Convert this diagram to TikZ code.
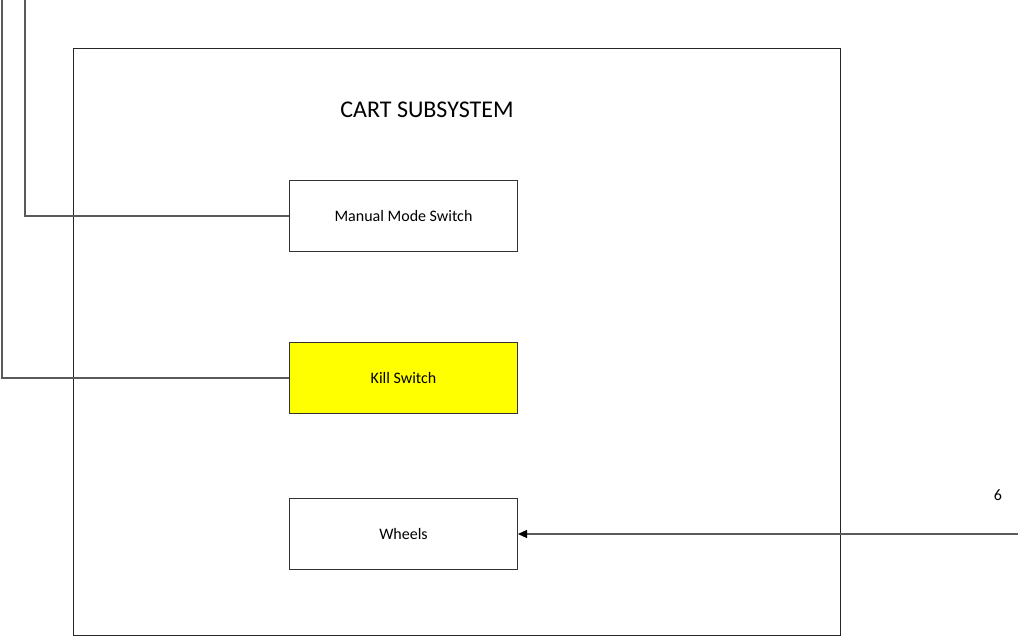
\documentclass[tikz,border=0pt]{standalone}
\usepackage{fontspec}
\setmainfont{Carlito}
\usetikzlibrary{arrows.meta}
\definecolor{kyellow}{RGB}{255,255,0}
\definecolor{lgray}{RGB}{90,90,90}
\begin{document}
\begin{tikzpicture}[x=1pt,y=-1pt,
  box/.style={draw=black!80,line width=1pt,minimum width=228pt,minimum height=71pt,inner sep=0pt,font=\fontsize{16}{19}\selectfont},
  conn/.style={draw=lgray,line width=1.1pt},
  lbl/.style={font=\fontsize{16}{19}\selectfont,inner sep=0pt}]
\useasboundingbox (0,0) rectangle (1018,636);
\node[draw=black!85,line width=1pt,minimum width=767pt,minimum height=587pt,inner sep=0pt,anchor=north west] (sub) at (73,48) {};
\node[font=\fontsize{24}{28}\selectfont,inner sep=0pt] (title) at (427,110) {CART SUBSYSTEM};
\node[box,anchor=north west] (mms) at (289,180) {Manual Mode Switch};
\node[box,anchor=north west,fill=kyellow] (kill) at (289,342) {Kill Switch};
\node[box,anchor=north west] (wheels) at (289,498) {Wheels};
\coordinate (m0) at (25,0);
\coordinate (k0) at (2,0);
\coordinate (w0) at (1020,534);
\node[lbl] (six) at (998,495) {6};
\draw[conn] (m0) |- (mms.west);
\draw[conn] (k0) |- (kill.west);
\draw[conn,-{Triangle[length=9pt,width=8pt,color=black,fill=black]}] (w0) -- (wheels.east);
\end{tikzpicture}
\end{document}
